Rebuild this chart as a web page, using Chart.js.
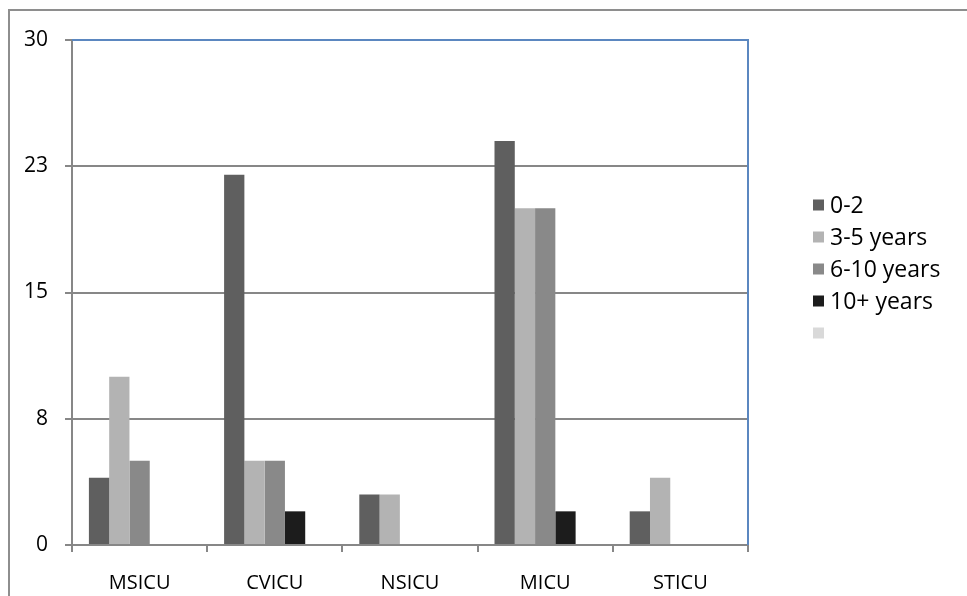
<!DOCTYPE html>
<html>
<head>
<meta charset="utf-8">
<title>ICU staff by years of experience</title>
<script src="https://cdn.jsdelivr.net/npm/chart.js@4/dist/chart.umd.min.js"></script>
<style>
  html, body { margin: 0; padding: 0; background: #ffffff; }
  #wrap { width: 967px; height: 596px; position: relative; }
</style>
</head>
<body>
<div id="wrap"><canvas id="chart" width="967" height="596"></canvas></div>
<script>
// Units and counts per experience band
const categories = ['MSICU', 'CVICU', 'NSICU', 'MICU', 'STICU'];
const seriesLabels = ['0-2', '3-5 years', '6-10 years', '10+ years', ''];
const years0to2 = [4, 22, 3, 24, 2];
const years3to5 = [10, 5, 3, 20, 4];
const years6to10 = [5, 5, 0, 20, 0];
const years10plus = [0, 2, 0, 2, 0];
const unlabelled = [0, 0, 0, 0, 0];
const yTickLabels = ['0', '8', '15', '23', '30'];

const seriesColors = ['#5f5f5f', '#b3b3b3', '#898989', '#1c1c1c', '#d9d9d9'];
const seriesValues = [years0to2, years3to5, years6to10, years10plus, unlabelled];

const FONT = '"Open Sans", "Liberation Sans", sans-serif';
const GRID = '#878787';
const FRAME_BLUE = '#5b87c0';

// Outer frame around the chart
const framePlugin = {
  id: 'frame',
  beforeDraw(chart) {
    const ctx = chart.ctx;
    ctx.save();
    ctx.strokeStyle = '#8e8e8e';
    ctx.lineWidth = 2;
    ctx.beginPath();
    ctx.moveTo(9, 596);
    ctx.lineTo(9, 10);
    ctx.lineTo(967, 10);
    ctx.stroke();
    ctx.restore();
  }
};

// Blue top and right edges of the plot area
const plotEdgePlugin = {
  id: 'plotEdge',
  afterDatasetsDraw(chart) {
    const a = chart.chartArea;
    const ctx = chart.ctx;
    ctx.save();
    ctx.strokeStyle = FRAME_BLUE;
    ctx.lineWidth = 2;
    ctx.beginPath();
    ctx.moveTo(a.left, a.top);
    ctx.lineTo(a.right, a.top);
    ctx.lineTo(a.right, a.bottom);
    ctx.stroke();
    ctx.restore();
  }
};

// Legend drawn to the right of the plot
const sideLegendPlugin = {
  id: 'sideLegend',
  afterDraw(chart) {
    const ctx = chart.ctx;
    const x0 = 813, y0 = 205, step = 32, box = 11;
    ctx.save();
    ctx.font = '23px ' + FONT;
    ctx.textBaseline = 'middle';
    ctx.textAlign = 'left';
    chart.data.datasets.forEach((ds, i) => {
      const cy = y0 + i * step;
      ctx.fillStyle = ds.backgroundColor;
      ctx.fillRect(x0, cy - box / 2, box, box);
      ctx.fillStyle = '#000000';
      ctx.fillText(ds.label, x0 + box + 6, cy + 1);
    });
    ctx.restore();
  }
};

const datasets = seriesLabels.map((label, i) => ({
  label: label,
  data: seriesValues[i],
  backgroundColor: seriesColors[i],
  borderWidth: 0,
  categoryPercentage: 0.75,
  barPercentage: 1.0
}));

new Chart(document.getElementById('chart'), {
  type: 'bar',
  data: { labels: categories, datasets: datasets },
  options: {
    responsive: false,
    animation: false,
    layout: { padding: { left: 0, top: 40, right: 219, bottom: 0 } },
    plugins: {
      legend: { display: false },
      tooltip: { enabled: false }
    },
    scales: {
      x: {
        offset: true,
        grid: {
          offset: true,
          drawOnChartArea: false,
          drawTicks: true,
          tickLength: 7,
          color: GRID,
          lineWidth: 2
        },
        border: { color: GRID, width: 2 },
        ticks: {
          color: '#000000',
          font: { family: FONT, size: 20 },
          padding: 19,
          maxRotation: 0
        },
        afterFit(scale) { scale.height = 51; }
      },
      y: {
        min: 0,
        max: 30,
        grid: {
          color: GRID,
          lineWidth: 2,
          tickLength: 7,
          drawTicks: true
        },
        border: { color: GRID, width: 2 },
        ticks: {
          stepSize: 7.5,
          color: '#000000',
          font: { family: FONT, size: 21 },
          padding: 17,
          callback: (v, idx) => yTickLabels[idx]
        },
        afterFit(scale) { scale.width = 72; }
      }
    }
  },
  plugins: [framePlugin, plotEdgePlugin, sideLegendPlugin]
});
</script>
</body>
</html>
